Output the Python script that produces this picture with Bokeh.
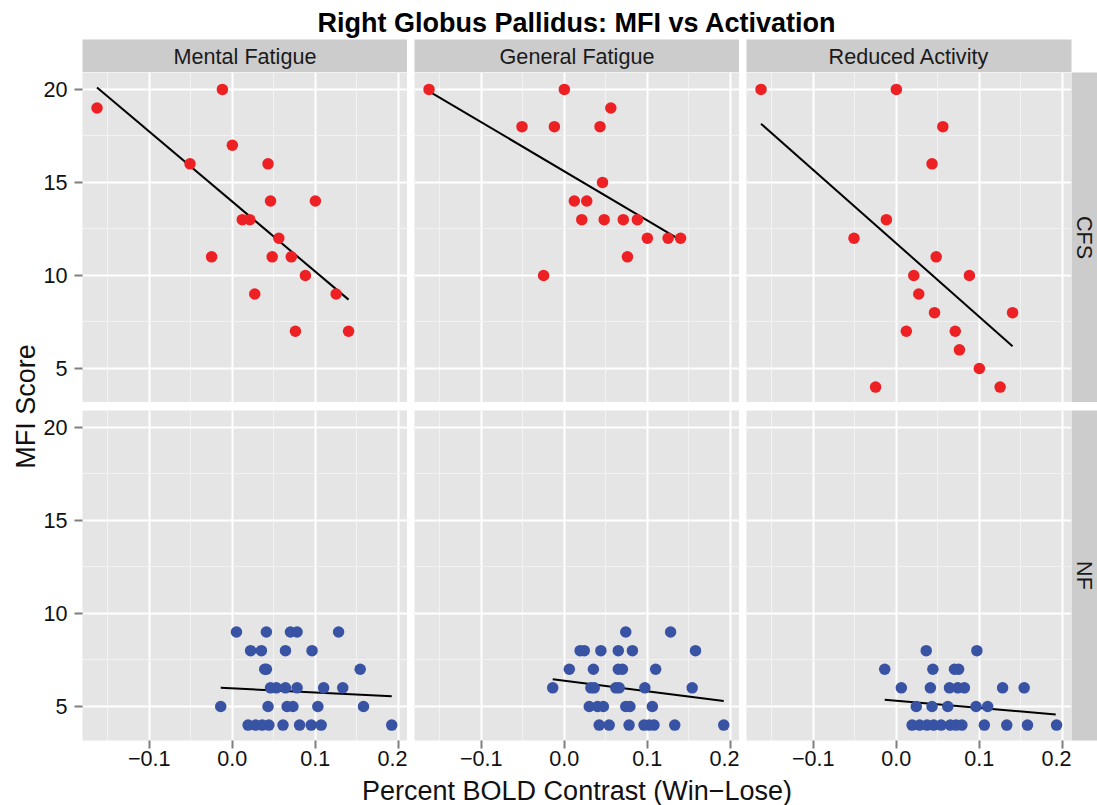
import math
from bokeh.plotting import figure
from bokeh.layouts import row, column
from bokeh.models import Range1d, LinearAxis, FixedTicker, Grid
from bokeh.embed import file_html
from bokeh.resources import INLINE
from bokeh.core.properties import value

FONT = "Liberation Sans"

# ---------------- data ----------------
facets = ["Mental Fatigue", "General Fatigue", "Reduced Activity"]
groups = ["CFS", "NF"]
title_text = "Right Globus Pallidus: MFI vs Activation"
x_title = "Percent BOLD Contrast (Win\u2212Lose)"
y_title = "MFI Score"

cfs_bold = [-0.163, -0.051, -0.025, -0.012, 0.000, 0.012, 0.021, 0.027, 0.043,
            0.046, 0.048, 0.056, 0.071, 0.076, 0.088, 0.100, 0.125, 0.140]
cfs_mf = [19, 16, 11, 20, 17, 13, 13, 9, 16, 14, 11, 12, 11, 7, 10, 14, 9, 7]
cfs_gf = [20, 18, 10, 18, 20, 14, 13, 14, 18, 15, 13, 19, 13, 11, 13, 12, 12, 12]
cfs_ra = [20, 12, 4, 13, 20, 7, 10, 9, 16, 8, 11, 18, 7, 6, 10, 5, 4, 8]

nf_mf_bold = [0.005, 0.041, 0.070, 0.078, 0.128,
              0.022, 0.035, 0.064, 0.096,
              0.039, 0.041, 0.154,
              0.046, 0.053, 0.064, 0.078, 0.110, 0.133,
              -0.014, 0.043, 0.066, 0.073, 0.103, 0.158,
              0.019, 0.028, 0.036, 0.044, 0.061, 0.081, 0.095, 0.107, 0.192]
nf_mf = [9, 9, 9, 9, 9,
         8, 8, 8, 8,
         7, 7, 7,
         6, 6, 6, 6, 6, 6,
         5, 5, 5, 5, 5, 5,
         4, 4, 4, 4, 4, 4, 4, 4, 4]

nf_gf_bold = [0.074, 0.128,
              0.019, 0.024, 0.044, 0.065, 0.082, 0.158,
              0.006, 0.035, 0.065, 0.070, 0.110,
              -0.014, 0.032, 0.036, 0.062, 0.066, 0.097, 0.154,
              0.030, 0.040, 0.047, 0.074, 0.079, 0.106,
              0.042, 0.054, 0.078, 0.096, 0.102, 0.108, 0.133, 0.192]
nf_gf = [9, 9,
         8, 8, 8, 8, 8, 8,
         7, 7, 7, 7, 7,
         6, 6, 6, 6, 6, 6, 6,
         5, 5, 5, 5, 5, 5,
         4, 4, 4, 4, 4, 4, 4, 4]

nf_ra_bold = [0.036, 0.097,
              -0.014, 0.044, 0.070, 0.075,
              0.006, 0.041, 0.064, 0.074, 0.082, 0.128, 0.154,
              0.024, 0.043, 0.062, 0.096, 0.110,
              0.019, 0.028, 0.037, 0.045, 0.054, 0.065, 0.072, 0.079, 0.106, 0.133, 0.158, 0.193]
nf_ra = [8, 8,
         7, 7, 7, 7,
         6, 6, 6, 6, 6, 6, 6,
         5, 5, 5, 5, 5,
         4, 4, 4, 4, 4, 4, 4, 4, 4, 4, 4, 4]

# fitted (lm) lines, end points
cfs_fit_x = [-0.163, 0.140]
cfs_fit_mf = [20.1, 8.7]
cfs_fit_gf = [19.9, 11.9]
cfs_fit_ra = [18.15, 6.2]
nf_fit_x = [-0.014, 0.192]
nf_fit_mf = [6.0, 5.55]
nf_fit_gf = [6.46, 5.29]
nf_fit_ra = [5.36, 4.57]

x_ticks = [-0.1, 0.0, 0.1, 0.2]
x_tick_labels = ["\u22120.1", "0.0", "0.1", "0.2"]
x_minor = [-0.15, -0.05, 0.05, 0.15]
y_ticks = [5, 10, 15, 20]
y_tick_labels = ["5", "10", "15", "20"]
y_minor = [7.5, 12.5, 17.5]

X_LO, X_HI = -0.1805, 0.211
Y_LO, Y_HI = 3.17, 20.91

RED = "#ED2024"
BLUE = "#3953A4"
PANEL_BG = "#E5E5E5"
STRIP_BG = "#CCCCCC"

# ---------------- layout constants ----------------
YL_W = 40      # y title column
LB = 42        # left border with y axis
PW = 325       # panel width
GAP = 7        # horizontal gap
SW = 26        # right strip width
TITLE_H = 39
STRIP_H = 33
PH = 330       # panel height
VGAP = 8
BB = 34        # bottom border with x tick labels
XL_H = 31      # x title row
TOTAL_W = YL_W + LB + 3 * PW + 2 * GAP + SW
MID_X = YL_W + LB + PW + GAP + PW / 2   # centre of the middle panel


def base_fig(fw, fh, xr, yr, left=0, right=0, top=0, bottom=0, bg="white"):
    p = figure(frame_width=fw, frame_height=fh, x_range=xr, y_range=yr,
               x_axis_location=None, y_axis_location=None,
               output_backend="svg", toolbar_location=None,
               min_border_left=left, min_border_right=right,
               min_border_top=top, min_border_bottom=bottom,
               background_fill_color=bg, border_fill_color="white",
               outline_line_color=None)
    p.center = []
    return p


def style_axis(ax):
    ax.axis_line_color = None
    ax.major_tick_in = 0
    ax.major_tick_out = 8
    ax.major_tick_line_color = "#7F7F7F"
    ax.major_tick_line_width = 2
    ax.minor_tick_line_color = None
    ax.major_label_text_font = FONT
    ax.major_label_text_font_size = "21.6px"
    ax.major_label_text_color = "#111111"


def panel(xs, ys, fx, fy, color, left, top=0, bottom=0, yaxis=False, xaxis=False):
    p = base_fig(PW, PH, Range1d(X_LO, X_HI), Range1d(Y_LO, Y_HI),
                 left=left, top=top, bottom=bottom, bg=PANEL_BG)
    xt = FixedTicker(ticks=x_ticks, minor_ticks=x_minor)
    yt = FixedTicker(ticks=y_ticks, minor_ticks=y_minor)
    for dim, t in ((0, xt), (1, yt)):
        p.add_layout(Grid(dimension=dim, ticker=t, grid_line_color="white", grid_line_width=2,
                          minor_grid_line_color="#F2F2F2", minor_grid_line_width=1), "center")
    p.line(fx, fy, line_color="black", line_width=2)
    p.scatter(xs, ys, size=11.5, fill_color=color, line_color=None)
    if yaxis:
        ax = LinearAxis(ticker=FixedTicker(ticks=y_ticks),
                        major_label_overrides=dict(zip(y_ticks, y_tick_labels)))
        style_axis(ax)
        ax.major_label_standoff = 7
        p.add_layout(ax, "left")
    if xaxis:
        ax = LinearAxis(ticker=FixedTicker(ticks=x_ticks),
                        major_label_overrides=dict(zip(x_ticks, x_tick_labels)))
        style_axis(ax)
        ax.major_label_standoff = 2
        p.add_layout(ax, "below")
    return p


def strip(text, fw, fh, left=0, right=0, top=0, bottom=0, angle=0.0):
    s = base_fig(fw, fh, Range1d(0, 1), Range1d(0, 1), left=left, right=right,
                 top=top, bottom=bottom, bg=STRIP_BG)
    s.text(x=[0.5], y=[0.5], text=[text], angle=angle, text_align="center",
           text_baseline="middle", text_font=value(FONT), text_font_size="21.6px",
           text_color="#1A1A1A")
    return s


# ---------------- build ----------------
title_fig = base_fig(TOTAL_W, TITLE_H, Range1d(0, TOTAL_W), Range1d(0, TITLE_H))
title_fig.text(x=[MID_X], y=[TITLE_H - 22], text=[title_text],
               text_align="center", text_baseline="middle", text_font=value(FONT),
               text_font_size="27px", text_font_style="bold", text_color="black")

yl_fig = base_fig(YL_W, 2 * PH + VGAP, Range1d(0, YL_W), Range1d(0, 1), top=STRIP_H, bottom=BB)
yl_fig.text(x=[25], y=[0.5], text=[y_title], angle=math.pi / 2, text_align="center",
            text_baseline="middle", text_font=value(FONT), text_font_size="27px",
            text_color="#111111")

xl_fig = base_fig(TOTAL_W, XL_H, Range1d(0, TOTAL_W), Range1d(0, XL_H))
xl_fig.text(x=[MID_X], y=[XL_H - 16], text=[x_title],
            text_align="center", text_baseline="middle", text_font=value(FONT),
            text_font_size="27px", text_color="#111111")

strip_row = row(
    strip(facets[0], PW, STRIP_H, left=LB),
    strip(facets[1], PW, STRIP_H, left=GAP),
    strip(facets[2], PW, STRIP_H, left=GAP, right=SW),
)

top_row = row(
    panel(cfs_bold, cfs_mf, cfs_fit_x, cfs_fit_mf, RED, LB, yaxis=True),
    panel(cfs_bold, cfs_gf, cfs_fit_x, cfs_fit_gf, RED, GAP),
    panel(cfs_bold, cfs_ra, cfs_fit_x, cfs_fit_ra, RED, GAP),
    strip(groups[0], SW, PH, angle=-math.pi / 2),
)

bottom_row = row(
    panel(nf_mf_bold, nf_mf, nf_fit_x, nf_fit_mf, BLUE, LB, top=VGAP, bottom=BB, yaxis=True, xaxis=True),
    panel(nf_gf_bold, nf_gf, nf_fit_x, nf_fit_gf, BLUE, GAP, top=VGAP, bottom=BB, xaxis=True),
    panel(nf_ra_bold, nf_ra, nf_fit_x, nf_fit_ra, BLUE, GAP, top=VGAP, bottom=BB, xaxis=True),
    strip(groups[1], SW, PH, top=VGAP, bottom=BB, angle=-math.pi / 2),
)

layout = column(title_fig,
                row(yl_fig, column(strip_row, top_row, bottom_row)),
                xl_fig)

open("out.html", "w").write(file_html(layout, INLINE))
